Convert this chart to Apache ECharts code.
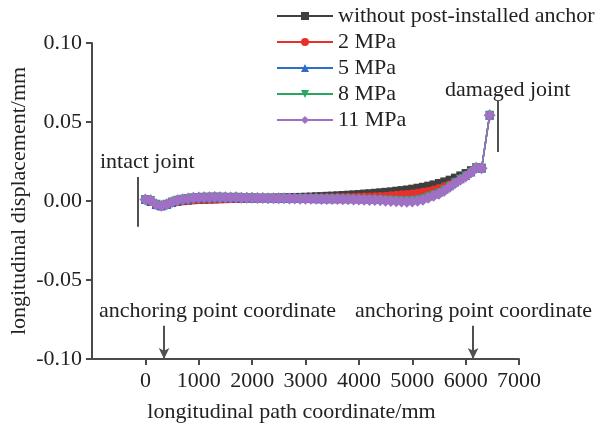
<!DOCTYPE html>
<html>
<head>
<meta charset="utf-8">
<script src="https://cdn.jsdelivr.net/npm/echarts@6/dist/echarts.min.js"></script>
<style>
  html, body { margin: 0; padding: 0; background: #fff; }
  #chart { width: 601px; height: 426px; }
</style>
</head>
<body>
<div id="chart"></div>
<script>
// Longitudinal path coordinate (mm) of each sampling point
const pathX = [
  0, 100, 200, 300, 400, 500, 600, 700, 800, 900,
  1000, 1100, 1200, 1300, 1400, 1500, 1600, 1700, 1800, 1900,
  2000, 2100, 2200, 2300, 2400, 2500, 2600, 2700, 2800, 2900,
  3000, 3100, 3200, 3300, 3400, 3500, 3600, 3700, 3800, 3900,
  4000, 4100, 4200, 4300, 4400, 4500, 4600, 4700, 4800, 4900,
  5000, 5100, 5200, 5300, 5400, 5500, 5600, 5700, 5800, 5900,
  6000, 6100, 6200, 6300, 6450
];

// Longitudinal displacement (mm) for each case
const noAnchor = [
  0.0008, -0.0006, -0.0026, -0.0032, -0.0023, -0.0013, -0.0006, -0.0001, 0.0002, 0.0005,
  0.0007, 0.0008, 0.0009, 0.0010, 0.0011, 0.0012, 0.0013, 0.0014, 0.0015, 0.0016,
  0.0017, 0.0018, 0.0019, 0.0020, 0.0021, 0.0022, 0.0023, 0.0024, 0.0025, 0.0026,
  0.0027, 0.0028, 0.0030, 0.0031, 0.0033, 0.0034, 0.0036, 0.0038, 0.0040, 0.0042,
  0.0044, 0.0047, 0.0049, 0.0052, 0.0055, 0.0058, 0.0061, 0.0065, 0.0069, 0.0073,
  0.0078, 0.0084, 0.0090, 0.0097, 0.0105, 0.0114, 0.0124, 0.0135, 0.0148, 0.0162,
  0.0177, 0.0195, 0.0212, 0.0210, 0.0543
];
const mpa2 = [
  0.0008, -0.0006, -0.0026, -0.0032, -0.0022, -0.0013, -0.0006, -0.0001, 0.0002, 0.0005,
  0.0007, 0.0008, 0.0009, 0.0010, 0.0011, 0.0011, 0.0012, 0.0013, 0.0014, 0.0014,
  0.0015, 0.0015, 0.0016, 0.0016, 0.0017, 0.0017, 0.0018, 0.0018, 0.0019, 0.0019,
  0.0020, 0.0020, 0.0021, 0.0021, 0.0022, 0.0022, 0.0023, 0.0024, 0.0025, 0.0026,
  0.0027, 0.0028, 0.0029, 0.0030, 0.0032, 0.0034, 0.0036, 0.0039, 0.0042, 0.0045,
  0.0048, 0.0053, 0.0058, 0.0064, 0.0072, 0.0082, 0.0093, 0.0106, 0.0121, 0.0138,
  0.0157, 0.0183, 0.0211, 0.0209, 0.0543
];
const mpa5 = [
  0.0009, 0.0002, -0.0022, -0.0031, -0.0022, -0.0008, 0.0003, 0.0010, 0.0015, 0.0019,
  0.0021, 0.0023, 0.0022, 0.0024, 0.0022, 0.0023, 0.0022, 0.0022, 0.0021, 0.0021,
  0.0020, 0.0019, 0.0019, 0.0019, 0.0018, 0.0018, 0.0017, 0.0017, 0.0017, 0.0016,
  0.0016, 0.0016, 0.0015, 0.0015, 0.0015, 0.0015, 0.0014, 0.0014, 0.0014, 0.0014,
  0.0013, 0.0013, 0.0012, 0.0012, 0.0011, 0.0010, 0.0009, 0.0008, 0.0008, 0.0008,
  0.0010, 0.0014, 0.0021, 0.0031, 0.0044, 0.0057, 0.0075, 0.0097, 0.0120, 0.0141,
  0.0161, 0.0184, 0.0210, 0.0208, 0.0543
];
const mpa8 = [
  0.0009, 0.0003, -0.0021, -0.0030, -0.0021, -0.0007, 0.0004, 0.0011, 0.0016, 0.0020,
  0.0022, 0.0024, 0.0023, 0.0025, 0.0023, 0.0024, 0.0022, 0.0023, 0.0021, 0.0021,
  0.0020, 0.0019, 0.0019, 0.0018, 0.0018, 0.0017, 0.0017, 0.0016, 0.0016, 0.0015,
  0.0015, 0.0014, 0.0014, 0.0013, 0.0013, 0.0013, 0.0012, 0.0012, 0.0011, 0.0011,
  0.0010, 0.0009, 0.0008, 0.0007, 0.0006, 0.0005, 0.0004, 0.0003, 0.0002, 0.0002,
  0.0003, 0.0007, 0.0014, 0.0025, 0.0038, 0.0051, 0.0070, 0.0092, 0.0116, 0.0137,
  0.0158, 0.0182, 0.0210, 0.0208, 0.0543
];
const mpa11 = [
  0.0010, 0.0004, -0.0020, -0.0030, -0.0021, -0.0006, 0.0005, 0.0011, 0.0016, 0.0020,
  0.0022, 0.0024, 0.0023, 0.0025, 0.0023, 0.0024, 0.0022, 0.0023, 0.0021, 0.0021,
  0.0020, 0.0019, 0.0019, 0.0018, 0.0018, 0.0017, 0.0017, 0.0016, 0.0016, 0.0015,
  0.0015, 0.0014, 0.0014, 0.0013, 0.0013, 0.0012, 0.0012, 0.0011, 0.0011, 0.0010,
  0.0009, 0.0008, 0.0007, 0.0006, 0.0004, 0.0002, 0.0000, -0.0002, -0.0003, -0.0004,
  -0.0003, 0.0001, 0.0008, 0.0020, 0.0033, 0.0046, 0.0065, 0.0088, 0.0112, 0.0134,
  0.0155, 0.0180, 0.0210, 0.0208, 0.0543
];

const seriesNames = ['without post-installed anchor', '2 MPa', '5 MPa', '8 MPa', '11 MPa'];
const seriesValues = [noAnchor, mpa2, mpa5, mpa8, mpa11];
const seriesColors = ['#3f3f3f', '#e8302a', '#2e6ec8', '#28a55f', '#a070c4'];
const seriesSymbols = ['rect', 'circle', 'triangle', 'triangle', 'diamond'];
const symbolRotations = [0, 0, 0, 180, 0];
const symbolSizes = [8, 8, 9, 9, 12];

// Axis ticks
const xTicks = [0, 1000, 2000, 3000, 4000, 5000, 6000, 7000];
const yTicks = [-0.10, -0.05, 0.00, 0.05, 0.10];

// Joint markers and anchoring points (data coordinates)
const intactJointX = -150;
const intactJointY = [0.0152, -0.0163];
const damagedJointX = 6595;
const damagedJointY = [0.064, 0.031];
const anchorPoints = [350, 6140];
const anchorArrowTop = -0.079;

const FONT = 'Liberation Serif';
const FONT_SIZE = 22;
const TEXT = '#222';
const AXIS = '#4a4a4a';
const CSS_FONT = FONT_SIZE + 'px "' + FONT + '"';

const chart = echarts.init(document.getElementById('chart'), null, { renderer: 'canvas' });

const lineSeries = seriesNames.map((name, k) => ({
  name: name,
  type: 'line',
  data: pathX.map((x, i) => [x, seriesValues[k][i]]),
  symbol: seriesSymbols[k],
  symbolRotate: symbolRotations[k],
  symbolSize: symbolSizes[k],
  showSymbol: true,
  showAllSymbol: true,
  color: seriesColors[k],
  lineStyle: { width: 1.5, color: seriesColors[k] },
  itemStyle: { color: seriesColors[k], borderWidth: 0 },
  animation: false,
  z: 3 + k
}));

// Guide lines: joint markers and arrows pointing at the anchoring points
const guideSeries = {
  type: 'line',
  data: [],
  silent: true,
  animation: false,
  z: 10,
  markLine: {
    silent: true,
    animation: false,
    label: { show: false },
    lineStyle: { color: '#505050', width: 2, type: 'solid' },
    symbol: ['none', 'none'],
    data: [
      [{ coord: [intactJointX, intactJointY[0]] }, { coord: [intactJointX, intactJointY[1]] }],
      [{ coord: [damagedJointX, damagedJointY[0]] }, { coord: [damagedJointX, damagedJointY[1]] }]
    ].concat(anchorPoints.map(ax => [
      { coord: [ax, anchorArrowTop], symbol: 'none' },
      { coord: [ax, yTicks[0]], symbol: 'arrow', symbolSize: [8, 11] }
    ]))
  }
};

chart.setOption({
  backgroundColor: '#fff',
  animation: false,
  textStyle: { fontFamily: FONT },
  grid: { left: 92, right: 82, top: 43, bottom: 67, containLabel: false, outerBoundsMode: 'none' },
  legend: {
    orient: 'vertical',
    left: 276,
    top: 5,
    padding: 0,
    itemWidth: 56,
    itemHeight: 10,
    itemGap: 4,
    data: seriesNames,
    textStyle: { fontFamily: FONT, fontSize: FONT_SIZE, color: TEXT, lineHeight: 22 }
  },
  xAxis: {
    type: 'value',
    min: -1000,
    max: 7000,
    interval: 1000,
    name: 'longitudinal path coordinate/mm',
    nameLocation: 'middle',
    nameGap: 42,
    nameMoveOverlap: false,
    nameTextStyle: { fontFamily: FONT, fontSize: FONT_SIZE, color: TEXT, padding: [0, 28, 0, 0] },
    axisLine: { onZero: false, lineStyle: { color: AXIS, width: 2 } },
    axisTick: { show: true, inside: false, length: 6, customValues: xTicks, lineStyle: { color: AXIS, width: 2 } },
    axisLabel: {
      customValues: xTicks,
      margin: 11,
      fontFamily: FONT, fontSize: FONT_SIZE, color: TEXT,
      formatter: v => (v < 0 ? '' : String(v))
    },
    splitLine: { show: false }
  },
  yAxis: {
    type: 'value',
    min: yTicks[0],
    max: yTicks[yTicks.length - 1],
    interval: 0.05,
    name: 'longitudinal displacement/mm',
    nameLocation: 'middle',
    nameGap: 62,
    nameMoveOverlap: false,
    nameTextStyle: { fontFamily: FONT, fontSize: FONT_SIZE, color: TEXT },
    axisLine: { show: true, onZero: false, lineStyle: { color: AXIS, width: 2 } },
    axisTick: { show: true, inside: false, length: 6, lineStyle: { color: AXIS, width: 2 } },
    axisLabel: {
      margin: 10,
      fontFamily: FONT, fontSize: FONT_SIZE, color: TEXT,
      formatter: v => v.toFixed(2)
    },
    splitLine: { show: false }
  },
  graphic: [
    { type: 'text', left: 100, top: 151, style: { text: 'intact joint', font: CSS_FONT, fill: TEXT } },
    { type: 'text', left: 445, top: 79, style: { text: 'damaged joint', font: CSS_FONT, fill: TEXT } },
    { type: 'text', left: 99, top: 300, style: { text: 'anchoring point coordinate', font: CSS_FONT, fill: TEXT } },
    { type: 'text', left: 355, top: 300, style: { text: 'anchoring point coordinate', font: CSS_FONT, fill: TEXT } }
  ],
  series: lineSeries.concat([guideSeries])
});
</script>
</body>
</html>
